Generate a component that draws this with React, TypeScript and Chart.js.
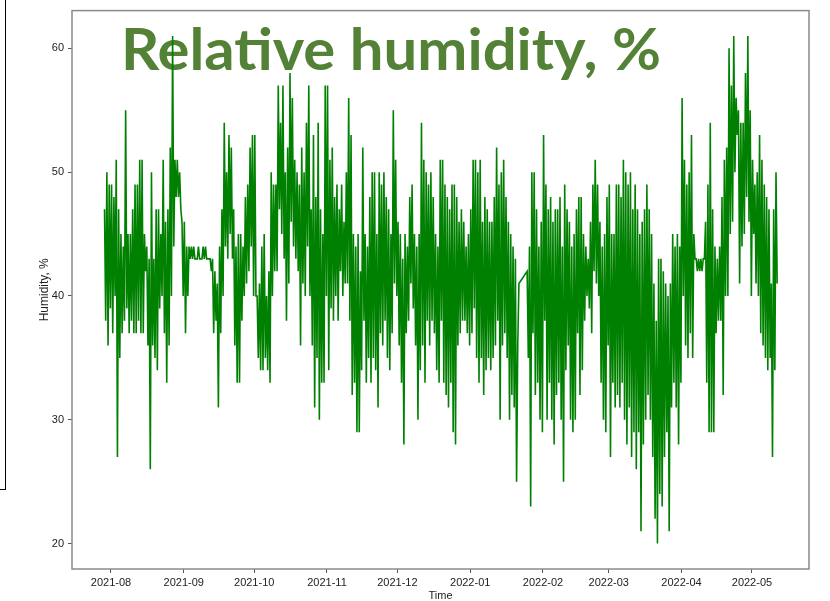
import React, { useEffect, useLayoutEffect, useRef } from 'react';
import { Chart, registerables } from 'chart.js';

Chart.register(...registerables);

// X-axis tick labels (month starts)
const monthLabels = ['2021-08', '2021-09', '2021-10', '2021-11', '2021-12', '2022-01', '2022-02', '2022-03', '2022-04', '2022-05'];
const yTickValues = [20, 30, 40, 50, 60];

// Humidity readings, two per day (night / afternoon), per month
const jul21 = [47, 38, 50, 36, 49, 39];
const aug21 = [49, 37, 48, 40, 51, 27, 47, 35, 45, 37, 44, 38, 55, 39, 45, 37, 45, 38, 47, 37, 49, 37, 49, 38, 51, 37, 51, 37, 45, 42, 44, 36, 43, 26, 50, 36, 43, 35, 47, 34, 47, 39, 45, 40, 51, 37, 46, 33, 47, 36, 52, 40, 61, 44, 51, 48, 51, 48, 50, 47, 46, 40];
const sep21 = [46, 37, 44, 40, 44, 43, 44, 43, 44, 43, 43, 43, 44, 43, 43, 43, 44, 43, 44, 43, 43, 43, 43, 42, 43, 37, 42, 38, 41, 31, 44, 37, 47, 40, 54, 44, 50, 43, 53, 45, 52, 43, 47, 36, 44, 33, 45, 33, 45, 38, 44, 40, 48, 41, 49, 42, 52, 44, 53, 40];
const oct21 = [53, 40, 40, 35, 41, 34, 44, 34, 45, 35, 40, 34, 42, 33, 50, 40, 49, 42, 49, 42, 57, 47, 54, 45, 57, 43, 50, 38, 52, 41, 58, 46, 56, 44, 51, 43, 50, 42, 49, 36, 52, 41, 50, 40, 54, 44, 57, 40, 47, 36, 53, 31, 48, 35, 54, 30, 47, 33, 45, 33, 57, 40];
const nov21 = [57, 34, 51, 39, 52, 38, 48, 40, 49, 38, 47, 42, 49, 40, 46, 41, 50, 41, 56, 38, 53, 32, 45, 33, 44, 29, 45, 29, 42, 34, 52, 38, 45, 33, 44, 35, 48, 33, 50, 35, 50, 34, 45, 31, 50, 37, 49, 36, 50, 38, 48, 35, 47, 34, 45, 37, 55, 41, 51, 40];
const dec21 = [46, 36, 45, 33, 43, 28, 45, 37, 44, 38, 48, 41, 49, 39, 45, 36, 44, 30, 45, 34, 54, 36, 51, 33, 50, 38, 49, 36, 50, 38, 48, 37, 45, 34, 44, 33, 51, 38, 51, 33, 49, 32, 48, 31, 47, 33, 49, 29, 49, 28, 48, 36, 46, 37, 47, 38, 46, 38, 44, 37, 45, 36];
const jan22 = [47, 37, 51, 39, 51, 35, 50, 33, 51, 35, 46, 32, 48, 34, 47, 35, 46, 34, 46, 35, 48, 36, 52, 38, 49, 30, 50, 36, 51, 37, 48, 35, 46, 30, 45, 32, 44, 31, 43, 25, 36, 41, null, null, null, null, null, null, 42, 35, 44, 23, 50, 37, 50, 32, 47, 33, 44, 30, 46, 29];
const feb22 = [53, 38, 49, 30, 47, 33, 48, 30, 46, 28, 47, 32, 47, 33, 48, 30, 44, 25, 49, 34, 47, 36, 46, 30, 44, 29, 45, 30, 47, 37, 48, 32, 48, 34, 45, 38, 44, 40, 43, 39, 46, 37, 49, 42, 51, 41, 49, 40, 46, 33, 44, 30, 45, 29, 48, 36];
const mar22 = [49, 27, 45, 33, 45, 31, 49, 32, 49, 31, 48, 33, 51, 30, 50, 28, 49, 31, 50, 27, 47, 29, 49, 26, 47, 29, 45, 21, 46, 28, 47, 30, 49, 32, 47, 30, 45, 27, 41, 22, 38, 20, 43, 24, 43, 23, 42, 27, 41, 29, 40, 21, 41, 31, 45, 33, 44, 31, 45, 28, 44, 33];
const apr22 = [56, 40, 51, 36, 49, 35, 50, 37, 53, 35, 45, 43, 43, 42, 43, 42, 43, 42, 43, 43, 46, 33, 49, 29, 54, 29, 47, 29, 44, 37, 43, 38, 44, 38, 48, 32, 51, 40, 52, 40, 60, 45, 57, 46, 61, 50, 56, 53, 55, 41, 54, 44, 54, 45, 58, 48, 61, 46, 55, 40];
const may22 = [51, 45, 49, 41, 50, 40, 53, 37, 51, 36, 49, 35, 48, 34, 47, 35, 41, 27, 47, 34, 50, 41];

const segmentStarts = ['2021-07-29', '2021-08-01', '2021-09-01', '2021-10-01', '2021-11-01', '2021-12-01', '2022-01-01', '2022-02-01', '2022-03-01', '2022-04-01', '2022-05-01'];
const segmentValues = [jul21, aug21, sep21, oct21, nov21, dec21, jan22, feb22, mar22, apr22, may22];

const BASE = Date.UTC(2021, 7, 1);
function dayIndex(s: string): number {
  const [y, m, d] = s.split('-').map(Number);
  return (Date.UTC(y, m - 1, d || 1) - BASE) / 86400000;
}

function buildPoints() {
  const pts: { x: number; y: number | null }[] = [];
  segmentValues.forEach((vals, si) => {
    const d0 = dayIndex(segmentStarts[si]);
    vals.forEach((v, i) => {
      pts.push({ x: d0 + Math.floor(i / 2) + (i % 2 ? 0.75 : 0.25), y: v });
    });
  });
  return pts;
}

const framePlugin = {
  id: 'frame',
  afterDatasetsDraw(chart: any) {
    const { ctx, chartArea: a } = chart;
    ctx.save();
    ctx.strokeStyle = '#8a8a8a';
    ctx.lineWidth = 1.5;
    ctx.strokeRect(a.left, a.top, a.right - a.left, a.bottom - a.top);
    ctx.restore();
  },
};

export default function App() {
  const canvasRef = useRef<HTMLCanvasElement | null>(null);
  const titleRef = useRef<HTMLSpanElement | null>(null);

  useLayoutEffect(() => {
    const el = titleRef.current;
    if (el) {
      const w = el.getBoundingClientRect().width;
      if (w > 0) {
        el.style.transform = `scaleX(${540 / w})`;
      }
    }
  }, []);

  useEffect(() => {
    if (!canvasRef.current) return;
    const font = 'Liberation Sans, Arial, sans-serif';
    const chart = new Chart(canvasRef.current, {
      type: 'line',
      data: {
        datasets: [
          {
            data: buildPoints() as any,
            borderColor: '#008000',
            borderWidth: 1.6,
            pointRadius: 0,
            tension: 0,
            spanGaps: true,
            fill: false,
          },
        ],
      },
      options: {
        animation: false,
        responsive: false,
        maintainAspectRatio: false,
        devicePixelRatio: 1,
        layout: { padding: { left: 0, right: 21, top: 9, bottom: 0 } },
        plugins: {
          legend: { display: false },
          tooltip: { enabled: false },
          title: { display: false },
        },
        scales: {
          x: {
            type: 'linear',
            min: -16.6,
            max: 297.3,
            bounds: 'data',
            afterBuildTicks: (scale: any) => {
              scale.ticks = monthLabels.map((l) => ({ value: dayIndex(l + '-01') }));
            },
            afterFit: (scale: any) => {
              scale.height = 32;
            },
            ticks: {
              autoSkip: false,
              maxRotation: 0,
              padding: 3,
              color: '#222',
              font: { family: font, size: 11 },
              callback: (_v: any, i: number) => monthLabels[i],
            },
            grid: { drawOnChartArea: false, drawTicks: true, tickLength: 4, color: '#555', lineWidth: 1 },
            border: { display: false },
            title: {
              display: true,
              text: 'Time',
              color: '#222',
              font: { family: font, size: 11, lineHeight: 1 },
              padding: { top: 0, bottom: 0 },
            },
          },
          y: {
            type: 'linear',
            min: 17.95,
            max: 63.05,
            bounds: 'data',
            afterBuildTicks: (scale: any) => {
              scale.ticks = yTickValues.map((v) => ({ value: v }));
            },
            afterFit: (scale: any) => {
              scale.width = 72;
            },
            ticks: {
              padding: 4,
              color: '#222',
              font: { family: font, size: 11 },
              callback: (v: any) => String(v),
            },
            grid: { drawOnChartArea: false, drawTicks: true, tickLength: 4, color: '#555', lineWidth: 1 },
            border: { display: false },
            title: {
              display: true,
              text: 'Humidity, %',
              color: '#222',
              font: { family: font, size: 12 },
              padding: { top: 37, bottom: 0 },
            },
          },
        },
      } as any,
      plugins: [framePlugin],
    });
    return () => chart.destroy();
  }, []);

  return (
    <div style={{ position: 'absolute', left: 0, top: 0, width: 830, height: 601, overflow: 'hidden', background: '#fff' }}>
      <div
        style={{
          position: 'absolute',
          left: -3,
          top: -3,
          width: 8,
          height: 492,
          borderRight: '1.5px solid #000',
          borderBottom: '1.5px solid #000',
        }}
      />
      <span
        ref={titleRef}
        style={{
          position: 'absolute',
          left: 121,
          top: 19,
          zIndex: 0,
          fontFamily: 'Lato, "Open Sans", sans-serif',
          fontWeight: 700,
          fontSize: 58,
          lineHeight: '58px',
          color: '#538135',
          whiteSpace: 'nowrap',
          transformOrigin: 'left top',
        }}
      >
        Relative humidity, %
      </span>
      <canvas
        ref={canvasRef}
        width={830}
        height={601}
        style={{ position: 'absolute', left: 0, top: 0, width: 830, height: 601, zIndex: 1 }}
      />
    </div>
  );
}
